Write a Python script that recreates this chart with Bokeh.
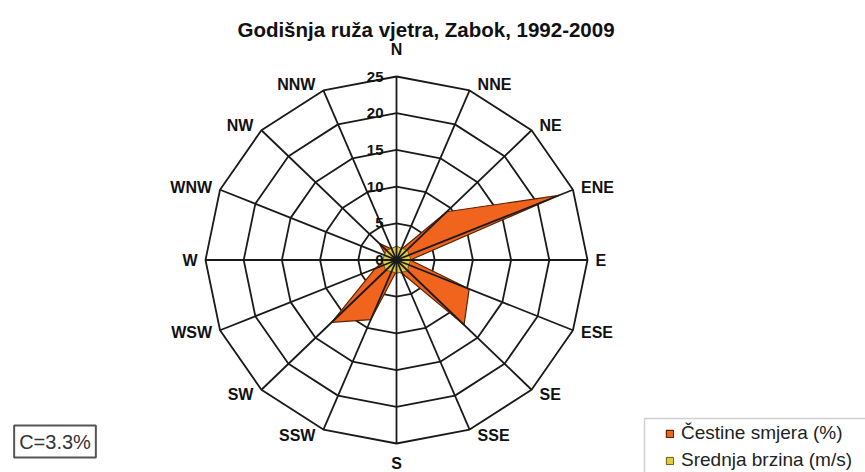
import numpy as np
from bokeh.plotting import figure
from bokeh.models import Range1d, Label, Legend, LegendItem, ColumnDataSource, BoxAnnotation
from bokeh.core.properties import value
from bokeh.embed import file_html
from bokeh.resources import INLINE

# ---------------- data ----------------
directions = ["N", "NNE", "NE", "ENE", "E", "ESE", "SE", "SSE",
              "S", "SSW", "SW", "WSW", "W", "WNW", "NW", "NNW"]
frequency = [1.5, 1.5, 9.3, 23.0, 1.8, 10.3, 12.5, 2.0,
             1.5, 8.8, 12.0, 3.0, 1.5, 1.5, 3.2, 1.6]          # Čestine smjera (%)
speed = [1.9, 1.7, 2.0, 1.8, 1.9, 1.7, 2.1, 1.8,
         1.8, 1.7, 2.0, 1.8, 1.9, 1.7, 1.9, 1.7]               # Srednja brzina (m/s)
ring_values = [5, 10, 15, 20, 25]
tick_values = [0, 5, 10, 15, 20, 25]
tick_labels = ["0", "5", "10", "15", "20", "25"]
series_names = ["Čestine smjera (%)", "Srednja brzina (m/s)"]
title_text = "Godišnja ruža vjetra, Zabok, 1992-2009"
calm_text = "C=3.3%"

# ---------------- style ----------------
W, H = 865, 472
ORANGE = "#F0641E"
ORANGE_LINE = "#5a2400"
YELLOW = "#E2CC3E"
YELLOW_LINE = "#6b5a10"
GRID = "#1a1a1a"
FONT = "Liberation Sans"

cx, cy = 396.0, 259.5            # rose centre in canvas px (from top-left)
ppu_x, ppu_y = 191 / 25, 183.5 / 25
rmax = max(ring_values)

p = figure(width=W, height=H,
           x_range=Range1d(-cx / ppu_x, (W - cx) / ppu_x),
           y_range=Range1d(-(H - cy) / ppu_y, cy / ppu_y),
           min_border=0, toolbar_location=None, output_backend="svg",
           x_axis_location=None, y_axis_location=None,
           background_fill_color="white", border_fill_color="white",
           outline_line_color=None)
p.grid.visible = False

n = len(directions)
theta = np.deg2rad(np.arange(n) * 360.0 / n)
sn, cs = np.sin(theta), np.cos(theta)

# rings (under the series)
ring_xs = [list(np.append(r * sn, r * sn[0])) for r in ring_values]
ring_ys = [list(np.append(r * cs, r * cs[0])) for r in ring_values]
p.multi_line(ring_xs, ring_ys, line_color=GRID, line_width=1.8)

# frequency series
fr = np.array(frequency)
r_freq = p.patch(list(fr * sn), list(fr * cs), fill_color=ORANGE,
                 line_color=ORANGE_LINE, line_width=1.2)

# speed series
sp = np.array(speed)
r_speed = p.patch(list(sp * sn), list(sp * cs), fill_color=YELLOW,
                  line_color=YELLOW_LINE, line_width=1)

# spokes (drawn on top, as in the original)
p.segment(x0=[0] * n, y0=[0] * n, x1=list(rmax * sn), y1=list(rmax * cs),
          line_color=GRID, line_width=1.8)

# radial tick labels
p.text(x=[0] * len(tick_values), y=tick_values, text=tick_labels,
       text_align="right", text_baseline="middle", x_offset=-13,
       text_font=value(FONT), text_font_style="bold", text_font_size="15px",
       text_color="#111111")

# direction labels
align = ["center" if abs(s) < 0.1 else ("left" if s > 0 else "right") for s in sn]
xoff = [0 if abs(s) < 0.1 else (8 if s > 0 else -8) for s in sn]
yoff = []
for s, c in zip(sn, cs):
    if abs(s) < 0.1:
        yoff.append(-27 if c > 0 else 20)
    else:
        yoff.append(-7 * c)
lab_src = ColumnDataSource(dict(x=list(rmax * sn), y=list(rmax * cs), t=directions,
                                a=align, xo=xoff, yo=yoff))
p.text(x="x", y="y", text="t", text_align="a", text_baseline="middle",
       x_offset="xo", y_offset="yo", source=lab_src,
       text_font=value(FONT), text_font_style="bold", text_font_size="16px",
       text_color="#111111")

# title
p.add_layout(Label(x=425.5, y=H - 29, x_units="screen", y_units="screen",
                   text=title_text, text_align="center", text_baseline="alphabetic",
                   text_font=FONT, text_font_style="bold", text_font_size="20.5px",
                   text_color="#111111"))

# calm box
p.add_layout(Label(x=54.5, y=H - 441, x_units="screen", y_units="screen",
                   text=calm_text, text_align="center", text_baseline="middle",
                   text_font=FONT, text_font_size="20px", text_color="#333333",
                   padding=5, border_line_color="#555555", border_line_width=2,
                   background_fill_color="white"))

# legend
p.add_layout(BoxAnnotation(left=644, right=W + 20, top=H - 418, bottom=-30,
                           left_units="screen", right_units="screen",
                           top_units="screen", bottom_units="screen",
                           fill_color="white", fill_alpha=1,
                           line_color="#666666", line_width=1.5))
legend = Legend(items=[LegendItem(label=series_names[0], renderers=[r_freq]),
                       LegendItem(label=series_names[1], renderers=[r_speed])],
                location=(665, 1), orientation="vertical",
                glyph_width=9, glyph_height=9, label_height=22,
                spacing=5, padding=0, margin=0, label_standoff=7,
                border_line_alpha=0, background_fill_alpha=0,
                label_text_font=FONT, label_text_font_size="19px",
                label_text_color="#222222")
p.add_layout(legend)

open("out.html", "w").write(file_html(p, INLINE))
